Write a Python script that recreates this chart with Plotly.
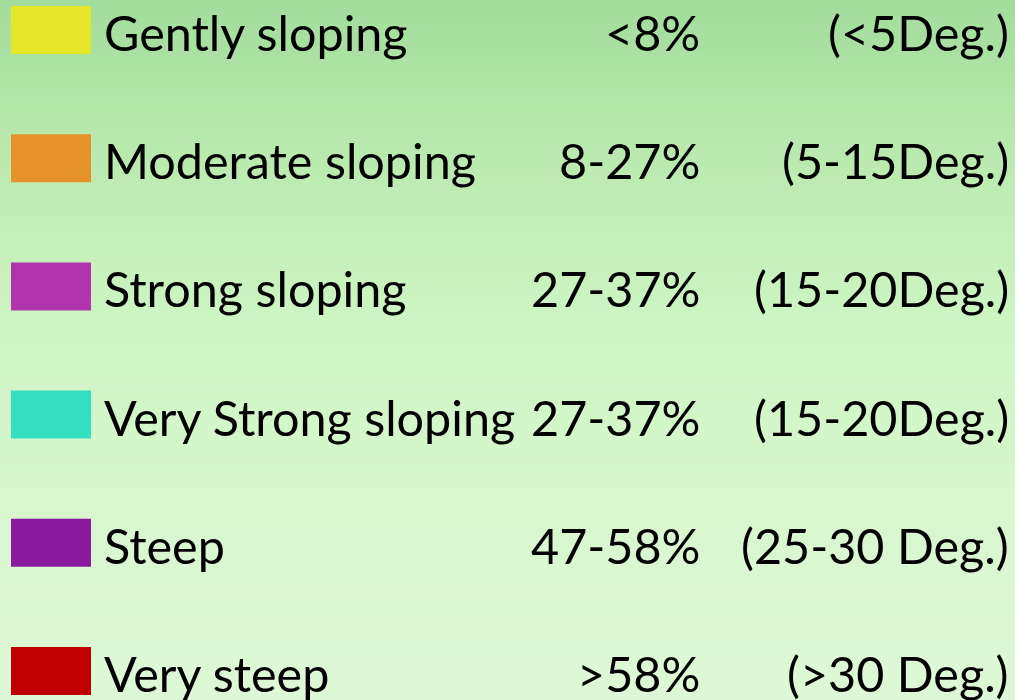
import plotly.graph_objects as go
import numpy as np

classes = ["Gently sloping", "Moderate sloping", "Strong sloping",
           "Very Strong sloping", "Steep", "Very steep"]
percent = ["<8%", "8-27%", "27-37%", "27-37%", "47-58%", ">58%"]
degrees = ["(<5Deg.)", "(5-15Deg.)", "(15-20Deg.)", "(15-20Deg.)",
           "(25-30 Deg.)", "(>30 Deg.)"]
colors = ["#e6e629", "#e6922a", "#b035ad", "#33dfc0", "#8a1aa0", "#c00000"]

W, H = 1015, 700
row_px = 128.2
top_px = 30
y_top = -top_px / row_px
y_bot = (H - top_px) / row_px

fig = go.Figure()

# background vertical gradient
ys = np.linspace(y_top - 0.05, y_bot + 0.05, 80)
zs = [[v, v] for v in np.linspace(0, 1, len(ys))]
fig.add_trace(go.Heatmap(
    x=[-10, W + 10], y=ys, z=zs, showscale=False, hoverinfo="skip",
    colorscale=[[0, "#a1dc9b"], [0.2, "#b8e8ad"], [0.45, "#cdf4c3"],
                [0.7, "#d7f7ce"], [1, "#ddf8d6"]], zsmooth="best"))

rows = list(range(len(classes)))
font = dict(family="Lato", size=48.5, color="black")

for i in rows:
    fig.add_annotation(x=102, y=i, text=classes[i], xanchor="left", yanchor="middle",
                       yshift=-2, showarrow=False, font=font, xref="x", yref="y")
    fig.add_annotation(x=702, y=i, text=percent[i], xanchor="right", yanchor="middle",
                       yshift=-2, showarrow=False, font=font, xref="x", yref="y")
    fig.add_annotation(x=1011, y=i, text=degrees[i], xanchor="right", yanchor="middle",
                       yshift=-2, showarrow=False, font=font, xref="x", yref="y")

half_h = 24 / row_px
for i, c in zip(rows, colors):
    fig.add_shape(type="rect", x0=11, x1=91, y0=i - half_h, y1=i + half_h,
                  xref="x", yref="y", fillcolor=c, line=dict(width=0), layer="above")

fig.update_layout(
    width=W, height=H, margin=dict(l=0, r=0, t=0, b=0),
    showlegend=False, paper_bgcolor="#ddf8d6", plot_bgcolor="#ddf8d6",
    xaxis=dict(range=[0, W], visible=False, fixedrange=True),
    yaxis=dict(range=[y_bot, y_top], visible=False, fixedrange=True),
)
fig.write_html("out.html", config={"displayModeBar": False},
               post_script="document.body.style.margin='0';document.body.style.overflow='hidden';")
